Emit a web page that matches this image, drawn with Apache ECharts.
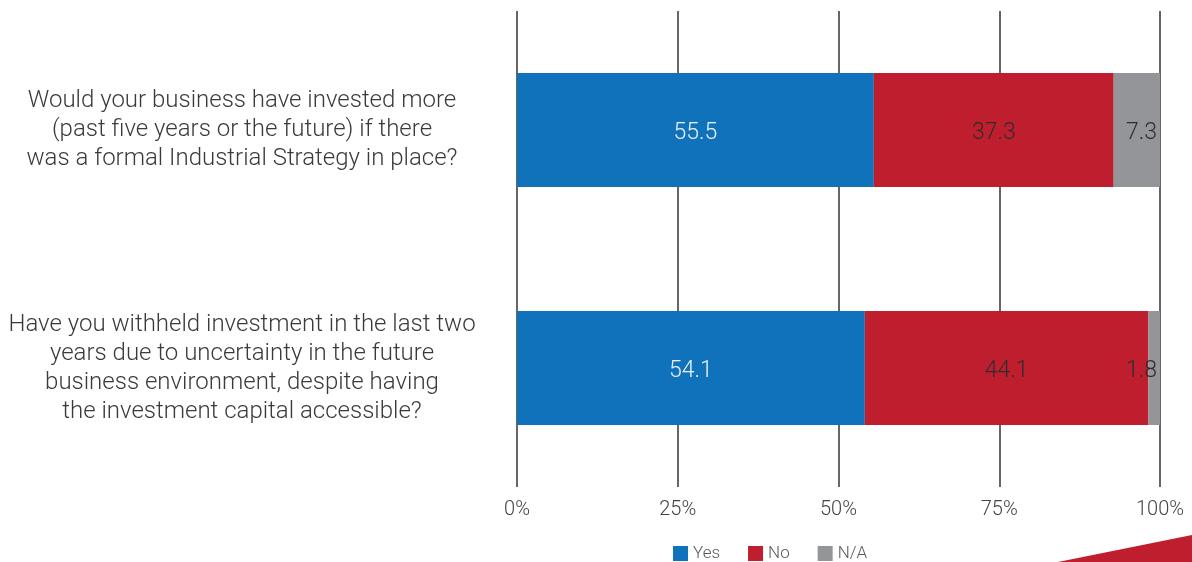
<!DOCTYPE html>
<html>
<head>
<meta charset="utf-8">
<script src="https://cdn.jsdelivr.net/npm/echarts@6/dist/echarts.min.js"></script>
<style>
  html, body { margin: 0; padding: 0; background: #ffffff; }
  #chart { width: 1192px; height: 562px; }
</style>
</head>
<body>
<div id="chart"></div>
<script>
// Survey questions (top to bottom)
const questions = [
  'Would your business have invested more\n(past five years or the future) if there\nwas a formal Industrial Strategy in place?',
  'Have you withheld investment in the last two\nyears due to uncertainty in the future\nbusiness environment, despite having\nthe investment capital accessible?'
];

// Share of responses, percent
const yesValues = [55.5, 54.1];
const noValues = [37.3, 44.1];
const naValues = [7.3, 1.8];

const percentTicks = [0, 25, 50, 75, 100];

const BLUE = '#1172BC';
const RED = '#BE1E2D';
const GREY = '#939598';
const FONT = 'Roboto, "Noto Sans", sans-serif';

const chart = echarts.init(document.getElementById('chart'), null, { renderer: 'canvas' });

function valueLabel(color, position, distance) {
  return {
    show: true,
    position: position,
    distance: distance || 0,
    offset: [0, 3],
    color: color,
    fontFamily: FONT,
    fontWeight: 300,
    fontSize: 23,
    formatter: p => p.value.toFixed(1)
  };
}

chart.setOption({
  animation: false,
  backgroundColor: '#ffffff',
  textStyle: { fontFamily: FONT },
  grid: { left: 517, right: 32, top: 11, bottom: 75 },
  legend: {
    left: 673,
    top: 545,
    padding: 0,
    itemWidth: 15,
    itemHeight: 15,
    itemGap: 28,
    icon: 'rect',
    textStyle: { color: '#595959', fontSize: 17, fontFamily: FONT, fontWeight: 300 },
    data: ['Yes', 'No', 'N/A']
  },
  xAxis: {
    type: 'value',
    min: percentTicks[0],
    max: percentTicks[percentTicks.length - 1],
    interval: 25,
    axisLine: { show: false },
    axisTick: { show: false },
    splitLine: { show: true, lineStyle: { color: '#333333', width: 1.5 } },
    axisLabel: {
      color: '#444444',
      fontSize: 20,
      fontWeight: 300,
      fontFamily: FONT,
      margin: 13,
      formatter: '{value}%'
    }
  },
  yAxis: {
    type: 'category',
    inverse: true,
    data: questions,
    axisLine: { show: false },
    axisTick: { show: false },
    splitLine: { show: false },
    axisLabel: {
      color: '#3a3a3a',
      fontSize: 24,
      fontWeight: 300,
      fontFamily: FONT,
      lineHeight: 29,
      align: 'center',
      margin: 275
    }
  },
  series: [
    {
      name: 'Yes', type: 'bar', stack: 'total', barWidth: 114,
      itemStyle: { color: BLUE },
      label: valueLabel('#eaf2fa', 'inside'),
      data: yesValues
    },
    {
      name: 'No', type: 'bar', stack: 'total', barWidth: 114,
      itemStyle: { color: RED },
      label: valueLabel('#2e2e2e', 'inside'),
      data: noValues
    },
    {
      name: 'N/A', type: 'bar', stack: 'total', barWidth: 114,
      itemStyle: { color: GREY },
      label: valueLabel('#2e2e2e', 'insideRight', 3),
      data: naValues
    }
  ],
  graphic: [
    {
      type: 'polygon',
      right: 0,
      bottom: 0,
      shape: { points: [[0, 27], [134, 0], [134, 27]] },
      style: { fill: RED }
    }
  ]
});
</script>
</body>
</html>
